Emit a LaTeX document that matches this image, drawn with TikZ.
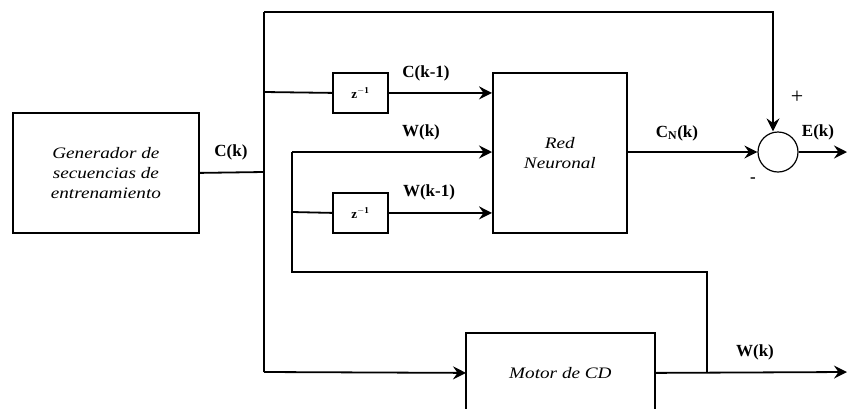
\documentclass[tikz,border=0pt]{standalone}
\usepackage{fontspec}
\setmainfont{Liberation Serif}
\newfontfamily\boxfont[FakeStretch=1.2]{Liberation Serif}
\usetikzlibrary{arrows.meta}
\begin{document}
\begin{tikzpicture}[x=1pt,y=-1pt,line width=1.8pt,
  >={Stealth[length=13pt,width=13pt,inset=4.5pt]},
  blk/.style n args={2}{draw,anchor=north west,inner sep=0pt,minimum width=#1,minimum height=#2,align=center,font=\boxfont\itshape\fontsize{16}{20}\selectfont},
  zbox/.style={draw,anchor=north west,inner sep=0pt,minimum width=55pt,minimum height=40pt,font=\bfseries\fontsize{13}{15}\selectfont},
  lbl/.style={inner sep=0pt,font=\bfseries\fontsize{17}{20}\selectfont}]
\useasboundingbox (0,0) rectangle (847,408);
% blocks
\node[blk={186pt}{120pt}] (gen) at (12,112) {Generador de\\secuencias de\\entrenamiento};
\node[zbox] (z1) at (332,72) {z$^{\mathbf{-1}}$};
\node[zbox] (z2) at (332,192) {z$^{\mathbf{-1}}$};
\node[blk={134pt}{160pt}] (red) at (492,72) {Red\\Neuronal};
\node[blk={187pt}{78pt},draw=none] (motor) at (466,333) {Motor de CD};
\draw (motor.south west) |- (motor.north east) -- (motor.south east);
\node[circle,draw,minimum size=40pt,inner sep=0pt,line width=1.2pt] (sum) at (778,152) {};
% coordinates
\coordinate (j0) at (264,172);
\coordinate (ctop) at (264,12);
\coordinate (cmid) at (264,92);
\coordinate (cbot) at (264,372);
\coordinate (cor) at (773,12);
\coordinate (wa) at (292,152);
\coordinate (wb) at (292,212);
\coordinate (wc) at (292,272);
\coordinate (wd) at (707,272);
\coordinate (we) at (707,372);
\coordinate (eout) at (847,152);
\coordinate (wout) at (847,372);
% connectors
\draw (gen.east) -- (j0);
\draw (ctop) -- (cbot);
\draw[->] (cbot) -- (motor.west);
\draw[->] (ctop) -- (cor) -- (cor |- sum.north);
\draw (cmid) -- (z1.west);
\draw[->] (z1.east) -- (z1.east -| red.west);
\draw[->] (wa) -- (wa -| red.west);
\draw (wa) -- (wc) -- (wd) -- (we);
\draw (wb) -- (z2.west);
\draw[->] (z2.east) -- (z2.east -| red.west);
\draw[->] (red.east |- sum.west) -- (sum.west);
\draw[->] (sum.east) -- (eout);
\draw[->] (motor.east) -- (wout);
% labels
\node[lbl] (lck) at (231,152) {C(k)};
\node[lbl] (lck1) at (426,73) {C(k-1)};
\node[lbl] (lwk) at (421,132) {W(k)};
\node[lbl] (lwk1) at (429,192) {W(k-1)};
\node[lbl] (lcn) at (677,133) {C$_{\mathbf{N}}$(k)};
\node[lbl] (lek) at (818,132) {E(k)};
\node[inner sep=0pt,font=\fontsize{22}{24}\selectfont] (lplus) at (797,97) {+};
\node[lbl] (lminus) at (753,180) {-};
\node[lbl] (lwo) at (755,352) {W(k)};
\end{tikzpicture}
\end{document}
